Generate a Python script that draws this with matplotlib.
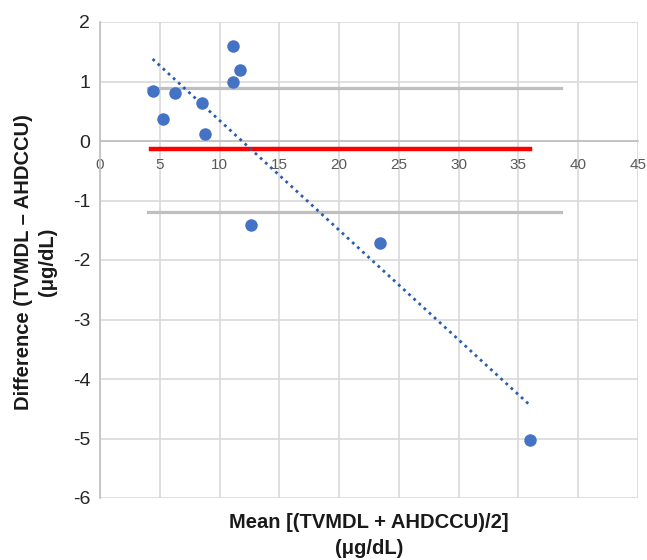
import numpy as np
import matplotlib
matplotlib.use("Agg")
import matplotlib.pyplot as plt

plt.rcParams['font.family'] = ['Liberation Sans', 'DejaVu Sans']
plt.rcParams['axes.unicode_minus'] = False

# data
mean_vals = [4.4, 5.3, 6.3, 8.5, 8.75, 11.1, 11.1, 11.75, 12.6, 23.4, 36.0]
diff_vals = [0.84, 0.37, 0.81, 0.64, 0.12, 1.0, 1.6, 1.19, -1.41, -1.71, -5.03]
bias = -0.13
upper_loa = 0.89
lower_loa = -1.19
loa_x = [4.0, 38.6]
bias_x = [4.3, 36.0]
x_ticks = [0, 5, 10, 15, 20, 25, 30, 35, 40, 45]
y_ticks = [2, 1, 0, -1, -2, -3, -4, -5, -6]

fig = plt.figure(figsize=(6.47, 5.60), dpi=100)
ax = fig.add_axes([100 / 647, 1 - 498 / 560, 538 / 647, 476 / 560])

ax.set_xlim(0, 45)
ax.set_ylim(-6, 2)
ax.set_xticks(x_ticks)
ax.set_yticks(y_ticks)
ax.grid(True, color="#d9d9d9", linewidth=1.2, zorder=0)
ax.set_axisbelow(True)

for s in ["top", "right"]:
    ax.spines[s].set_visible(False)
ax.spines["left"].set_color("#bfbfbf")
ax.spines["left"].set_linewidth(1.2)
ax.spines["bottom"].set_position(("data", 0))
ax.spines["bottom"].set_color("#bfbfbf")
ax.spines["bottom"].set_linewidth(1.2)
ax.tick_params(axis="both", length=0)
ax.tick_params(axis="x", labelsize=11, labelcolor="#595959", pad=12)
ax.tick_params(axis="y", labelsize=14, labelcolor="#262626", pad=7)

# limits of agreement and bias
ax.plot(loa_x, [upper_loa, upper_loa], color="#bfbfbf", linewidth=2.3, zorder=2)
ax.plot(loa_x, [lower_loa, lower_loa], color="#bfbfbf", linewidth=2.3, zorder=2)
ax.plot(bias_x, [bias, bias], color="#ff0000", linewidth=3.2, zorder=2)

# linear trend line
x = np.array(mean_vals)
y = np.array(diff_vals)
k, b = np.polyfit(x, y, 1)
xt = np.array([x.min(), x.max()])
ax.plot(xt, k * xt + b, linestyle=(0, (1, 1.5)), color="#2a5db0", linewidth=2, zorder=3)

ax.plot(mean_vals, diff_vals, "o", color="#4472c4", markersize=9, markeredgewidth=0, zorder=4)

lab = dict(fontsize=14.5, fontweight="bold", color="#1a1a1a", ha="center", va="center")
fig.text(369 / 647, 1 - 523 / 560, "Mean [(TVMDL + AHDCCU)/2]", **lab)
fig.text(369 / 647, 1 - 549 / 560, "(μg/dL)", **lab)
fig.text(24 / 647, 1 - 262 / 560, "Difference (TVMDL – AHDCCU)", rotation=90, **lab)
fig.text(47 / 647, 1 - 262 / 560, "(μg/dL)", rotation=90, **lab)

fig.savefig("out.png", dpi=100)
plt.close(fig)
